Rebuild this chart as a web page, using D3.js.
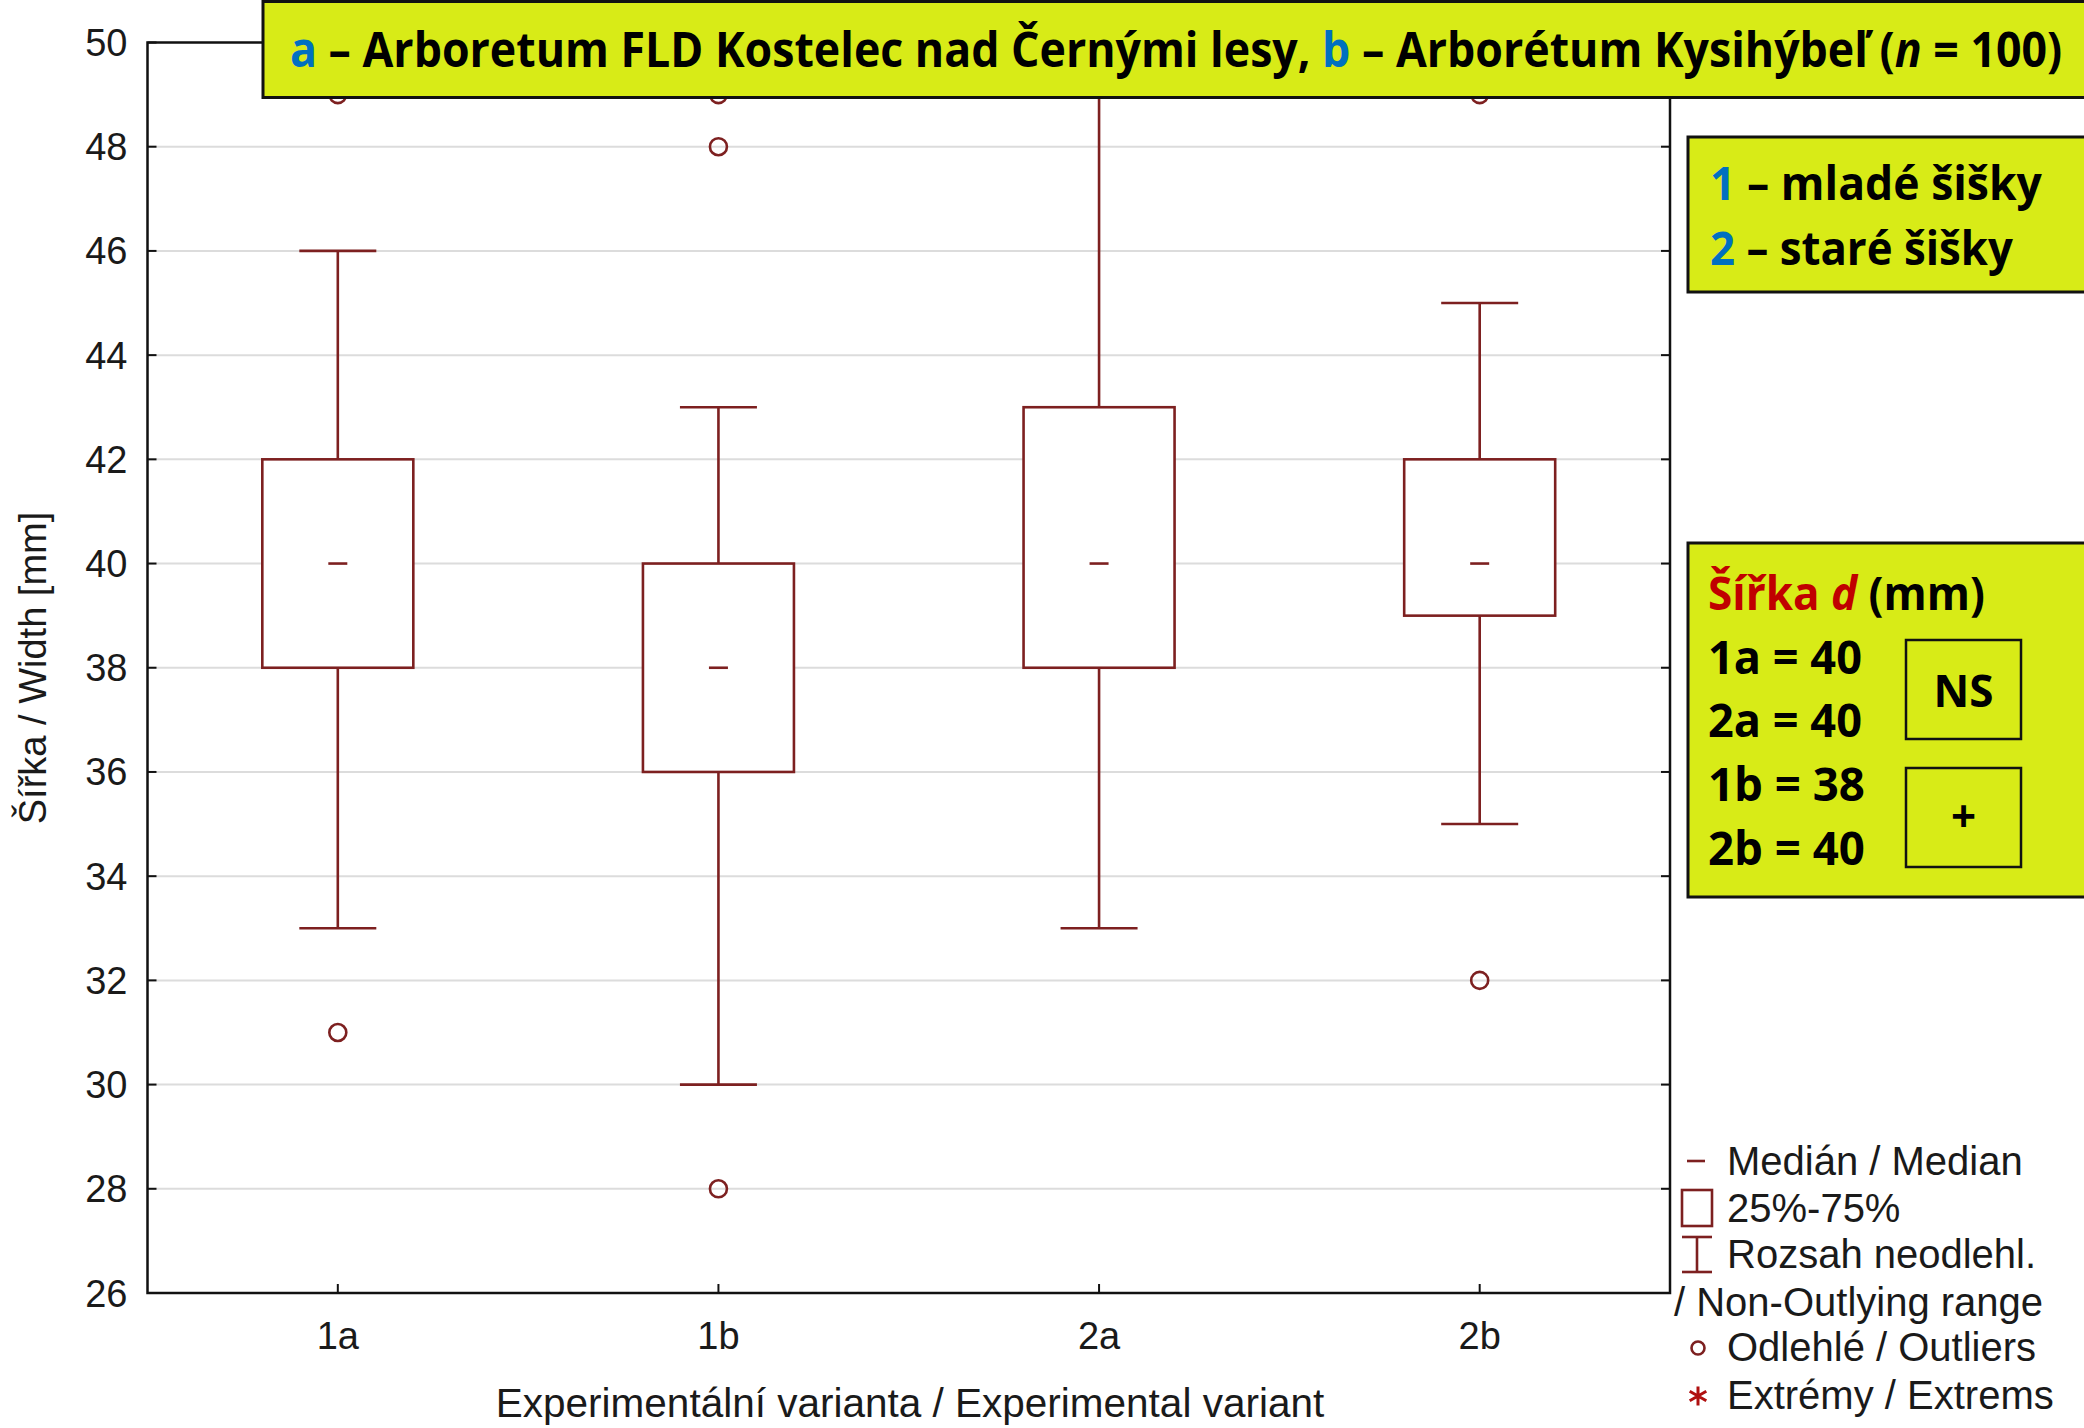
<!DOCTYPE html>
<meta charset="utf-8">
<script src="https://d3js.org/d3.v7.min.js"></script>
<style>
  body { margin: 0; background: #fff; }
  text { font-family: "Liberation Sans", Arial, sans-serif; }
  .cal { font-family: "Open Sans", "Noto Sans", sans-serif; font-weight: 700; }
</style>
<div id="chart"></div>
<script>

// data
var categories   = ["1a", "1b", "2a", "2b"];
var whiskerLow   = [33, 30, 33, 35];
var q1           = [38, 36, 38, 39];
var medians      = [40, 38, 40, 40];
var q3           = [42, 40, 43, 42];
var whiskerHigh  = [46, 43, 50, 45];
var outliers     = [[31, 49], [28, 48, 49], [], [32, 49]];
var yTicks       = [26, 28, 30, 32, 34, 36, 38, 40, 42, 44, 46, 48, 50];

var sizeRows     = ["1a = 40", "2a = 40", "1b = 38", "2b = 40"];
var legendRows   = ["Medián / Median", "25%-75%", "Rozsah neodlehl.", "/ Non-Outlying range", "Odlehlé / Outliers", "Extrémy / Extrems"];

var W = 2084, H = 1428;
var plot = {left: 147.5, right: 1670, top: 42.5, bottom: 1293};
var boxRed = "#7d2020", blue = "#0070c0", lime = "#d8eb17";

var svg = d3.select("#chart").append("svg")
  .attr("width", W).attr("height", H);

var x = d3.scaleBand().domain(categories).range([plot.left, plot.right]);
var y = d3.scaleLinear().domain([26, 50]).range([plot.bottom, plot.top]);
var cx = function(i){ return x(categories[i]) + x.bandwidth() / 2; };

// squeeze a text horizontally to a given width, keeping its left anchor
function fit(sel, target) {
  var w = sel.node().getComputedTextLength();
  var x0 = +sel.attr("x"), y0 = +sel.attr("y");
  sel.attr("x", 0).attr("y", 0)
    .attr("transform", "translate(" + x0 + "," + y0 + ") scale(" + (target / w) + ",1)");
}

// gridlines
svg.selectAll("line.grid")
  .data(yTicks.filter(function(d){ return d > 26 && d < 50; }))
  .enter().append("line")
    .attr("x1", plot.left).attr("x2", plot.right)
    .attr("y1", function(d){ return y(d); }).attr("y2", function(d){ return y(d); })
    .attr("stroke", "#dcdcdc").attr("stroke-width", 2);

// frame
svg.append("rect")
  .attr("x", plot.left).attr("y", plot.top)
  .attr("width", plot.right - plot.left).attr("height", plot.bottom - plot.top)
  .attr("fill", "none").attr("stroke", "#111").attr("stroke-width", 2.5);

// y ticks, left and right (inward)
yTicks.forEach(function(t){
  svg.append("line").attr("x1", plot.left).attr("x2", plot.left + 9)
    .attr("y1", y(t)).attr("y2", y(t)).attr("stroke", "#111").attr("stroke-width", 2);
  svg.append("line").attr("x1", plot.right - 9).attr("x2", plot.right)
    .attr("y1", y(t)).attr("y2", y(t)).attr("stroke", "#111").attr("stroke-width", 2);
});
svg.selectAll("text.ytick")
  .data(yTicks)
  .enter().append("text")
    .attr("x", plot.left - 20)
    .attr("y", function(d){ return y(d) + 13.5; })
    .attr("text-anchor", "end")
    .style("font-size", "38px").attr("fill", "#1a1a1a")
    .text(function(d){ return d; });

// x ticks + labels
categories.forEach(function(c, i){
  svg.append("line").attr("x1", cx(i)).attr("x2", cx(i))
    .attr("y1", plot.bottom).attr("y2", plot.bottom - 9)
    .attr("stroke", "#111").attr("stroke-width", 2);
  svg.append("text").attr("x", cx(i)).attr("y", 1349)
    .attr("text-anchor", "middle").style("font-size", "38px").attr("fill", "#1a1a1a")
    .text(c);
});

// axis titles
svg.append("text")
  .attr("transform", "translate(46,668) rotate(-90)")
  .attr("text-anchor", "middle").style("font-size", "38px").attr("fill", "#1a1a1a")
  .text("Šířka / Width [mm]");
svg.append("text")
  .attr("x", 910).attr("y", 1417)
  .attr("text-anchor", "middle").style("font-size", "40.5px").attr("fill", "#1a1a1a")
  .text("Experimentální varianta / Experimental variant");

// boxes
var boxW = 151, capW = 77, medW = 19;
var g = svg.append("g").attr("stroke", boxRed).attr("stroke-width", 2.6).attr("fill", "none");
categories.forEach(function(c, i){
  var m = cx(i);
  g.append("line").attr("x1", m).attr("x2", m).attr("y1", y(q3[i])).attr("y2", y(whiskerHigh[i]));
  g.append("line").attr("x1", m).attr("x2", m).attr("y1", y(q1[i])).attr("y2", y(whiskerLow[i]));
  g.append("line").attr("x1", m - capW/2).attr("x2", m + capW/2).attr("y1", y(whiskerHigh[i])).attr("y2", y(whiskerHigh[i]));
  g.append("line").attr("x1", m - capW/2).attr("x2", m + capW/2).attr("y1", y(whiskerLow[i])).attr("y2", y(whiskerLow[i]));
  g.append("rect").attr("x", m - boxW/2).attr("y", y(q3[i]))
    .attr("width", boxW).attr("height", y(q1[i]) - y(q3[i])).attr("fill", "#fff");
  g.append("line").attr("x1", m - medW/2).attr("x2", m + medW/2).attr("y1", y(medians[i])).attr("y2", y(medians[i]));
  outliers[i].forEach(function(v){
    g.append("circle").attr("cx", m).attr("cy", y(v)).attr("r", 8.5);
  });
});

// title box
svg.append("rect").attr("x", 263).attr("y", 1.5).attr("width", W - 263 + 10).attr("height", 96)
  .attr("fill", lime).attr("stroke", "#111").attr("stroke-width", 3);
var title = svg.append("text").attr("class", "cal").attr("x", 290).attr("y", 67)
  .style("font-size", "49px").attr("fill", "#000");
title.append("tspan").attr("fill", blue).text("a");
title.append("tspan").text(" – Arboretum FLD Kostelec nad Černými lesy, ");
title.append("tspan").attr("fill", blue).text("b");
title.append("tspan").text(" – Arborétum Kysihýbeľ (");
title.append("tspan").style("font-style", "italic").text("n");
title.append("tspan").text(" = 100)");
fit(title, 1773);

// 1 / 2 box
svg.append("rect").attr("x", 1688).attr("y", 137).attr("width", 410).attr("height", 155)
  .attr("fill", lime).attr("stroke", "#111").attr("stroke-width", 3);
[["1", " – mladé šišky", 200, 332], ["2", " – staré šišky", 265, 303]].forEach(function(r){
  var t = svg.append("text").attr("class", "cal").attr("x", 1710).attr("y", r[2])
    .style("font-size", "46px").attr("fill", "#000");
  t.append("tspan").attr("fill", blue).text(r[0]);
  t.append("tspan").text(r[1]);
  fit(t, r[3]);
});

// width box
svg.append("rect").attr("x", 1688).attr("y", 543).attr("width", 410).attr("height", 354)
  .attr("fill", lime).attr("stroke", "#111").attr("stroke-width", 3);
var hd = svg.append("text").attr("class", "cal").attr("x", 1708).attr("y", 610)
  .style("font-size", "46px").attr("fill", "#000");
hd.append("tspan").attr("fill", "#c00000").text("Šířka ");
hd.append("tspan").attr("fill", "#c00000").style("font-style", "italic").text("d");
hd.append("tspan").text(" (mm)");
fit(hd, 277);
var rowY = [674, 737, 801, 865];
sizeRows.forEach(function(s, i){
  var t = svg.append("text").attr("class", "cal").attr("x", 1708).attr("y", rowY[i])
    .style("font-size", "46px").attr("fill", "#000").text(s);
  fit(t, s.indexOf("b") > 0 ? 157 : 154);
});
[[640, 739, "NS", 707], [768, 867, "+", 832]].forEach(function(b){
  svg.append("rect").attr("x", 1906).attr("y", b[0]).attr("width", 115).attr("height", b[1] - b[0])
    .attr("fill", "none").attr("stroke", "#111").attr("stroke-width", 2.5);
  svg.append("text").attr("class", "cal").attr("x", 1963.5).attr("y", b[3])
    .attr("text-anchor", "middle").style("font-size", "44px").attr("fill", "#000").text(b[2]);
});

// legend
var legY = [1175, 1222, 1268, 1316, 1361, 1409];
legendRows.forEach(function(s, i){
  svg.append("text").attr("x", i === 3 ? 1674 : 1727).attr("y", legY[i])
    .style("font-size", "40px").attr("fill", "#1a1a1a").text(s);
});
var lg = svg.append("g").attr("stroke", boxRed).attr("stroke-width", 2.6).attr("fill", "none");
lg.append("line").attr("x1", 1687).attr("x2", 1705).attr("y1", 1161).attr("y2", 1161);
lg.append("rect").attr("x", 1682).attr("y", 1190).attr("width", 30).attr("height", 36);
lg.append("line").attr("x1", 1682).attr("x2", 1712).attr("y1", 1237).attr("y2", 1237);
lg.append("line").attr("x1", 1682).attr("x2", 1712).attr("y1", 1272).attr("y2", 1272);
lg.append("line").attr("x1", 1697).attr("x2", 1697).attr("y1", 1237).attr("y2", 1272);
lg.append("circle").attr("cx", 1698).attr("cy", 1348).attr("r", 6.5);
svg.append("path")
  .attr("d", d3.symbol().type(d3.symbolAsterisk).size(260)())
  .attr("transform", "translate(1698,1396)")
  .attr("fill", "none").attr("stroke", "#b01010").attr("stroke-width", 3);

</script>
